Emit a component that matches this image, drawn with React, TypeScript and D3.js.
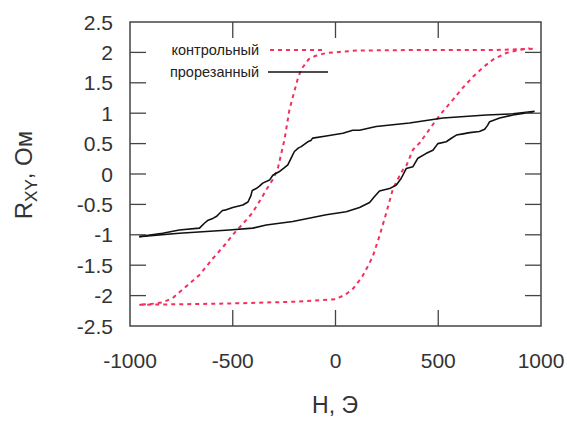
import React from "react";
import * as d3 from "d3";

// H, Э values (Oe) and R_XY (Ohm)
const controlDownH = [960, 780, 400, 100, -45, -100, -130, -167, -185, -205, -224, -248, -265, -280, -305, -337, -354, -386, -410, -435, -500, -532, -597, -662, -727, -792, -841, -900, -955];
const controlDownR = [2.06, 2.04, 2.04, 2.03, 1.99, 1.94, 1.89, 1.72, 1.55, 1.3, 1.06, 0.57, 0.32, 0.1, -0.09, -0.26, -0.36, -0.54, -0.66, -0.76, -1.0, -1.14, -1.39, -1.66, -1.85, -2.04, -2.11, -2.14, -2.15];
const controlUpH = [-955, -700, -516, -191, 0, 50, 84, 110, 133, 160, 182, 214, 247, 279, 310, 328, 344, 377, 409, 450, 490, 530, 571, 620, 669, 720, 766, 831, 880, 945];
const controlUpR = [-2.15, -2.14, -2.13, -2.1, -2.06, -1.98, -1.89, -1.78, -1.67, -1.5, -1.35, -1.02, -0.64, -0.25, -0.04, 0.07, 0.13, 0.4, 0.51, 0.7, 0.89, 1.06, 1.22, 1.42, 1.6, 1.76, 1.88, 1.99, 2.03, 2.07];

const cutDownH = [969, 863, 734, 523, 360, 198, 117, 84, 36, -45, -111, -120, -135, -167, -180, -200, -216, -232, -250, -273, -305, -321, -354, -370, -386, -405, -412, -426, -451, -500, -532, -550, -565, -580, -597, -620, -638, -662, -760, -841, -955];
const cutDownR = [1.03, 0.99, 0.97, 0.92, 0.84, 0.78, 0.72, 0.72, 0.67, 0.625, 0.59, 0.55, 0.53, 0.45, 0.43, 0.37, 0.26, 0.15, 0.1, 0.04, -0.02, -0.1, -0.15, -0.2, -0.24, -0.27, -0.36, -0.46, -0.51, -0.55, -0.59, -0.6, -0.65, -0.7, -0.73, -0.76, -0.81, -0.89, -0.92, -0.975, -1.03];
const cutUpH = [-955, -760, -516, -403, -337, -208, -45, 52, 117, 166, 190, 214, 263, 296, 320, 344, 377, 401, 442, 474, 498, 539, 560, 588, 620, 653, 700, 726, 740, 750, 799, 863, 961];
const cutUpR = [-1.03, -0.975, -0.92, -0.89, -0.84, -0.78, -0.67, -0.62, -0.55, -0.47, -0.37, -0.28, -0.24, -0.18, -0.07, 0.09, 0.12, 0.26, 0.34, 0.39, 0.5, 0.53, 0.58, 0.64, 0.66, 0.68, 0.7, 0.735, 0.8, 0.86, 0.92, 0.97, 1.02];

const xTicks = [-1000, -500, 0, 500, 1000];
const yTicks = [2.5, 2, 1.5, 1, 0.5, 0, -0.5, -1, -1.5, -2, -2.5];

const W = 567, H = 421;
const left = 130, right = 541, top = 22, bottom = 326;
const font = "'Liberation Sans', Arial, sans-serif";
const red = "#f2305e";
const frame = "#444";

export default function App() {
  const x = d3.scaleLinear().domain([-1000, 1000]).range([left, right]);
  const y = d3.scaleLinear().domain([-2.5, 2.5]).range([bottom, top]);
  const line = d3.line<[number, number]>().x(d => x(d[0])).y(d => y(d[1]));
  const zip = (a: number[], b: number[]) => a.map((v, i) => [v, b[i]] as [number, number]);
  const tl = 16;

  return (
    <svg width={W} height={H} style={{ position: "absolute", left: 0, top: 0, background: "#fff" }} fontFamily={font}>
      <path d={line(zip(controlDownH, controlDownR)) || ""} fill="none" stroke={red} strokeWidth={2} strokeDasharray="4,4" />
      <path d={line(zip(controlUpH, controlUpR)) || ""} fill="none" stroke={red} strokeWidth={2} strokeDasharray="4,4" />
      <path d={line(zip(cutDownH, cutDownR)) || ""} fill="none" stroke="#111" strokeWidth={1.6} strokeLinejoin="round" />
      <path d={line(zip(cutUpH, cutUpR)) || ""} fill="none" stroke="#111" strokeWidth={1.6} strokeLinejoin="round" />

      <rect x={left} y={top} width={right - left} height={bottom - top} fill="none" stroke={frame} strokeWidth={1.5} />
      {xTicks.slice(1, -1).map(t => (
        <g key={"x" + t}>
          <line x1={x(t)} x2={x(t)} y1={bottom} y2={bottom - tl} stroke={frame} strokeWidth={1.3} />
          <line x1={x(t)} x2={x(t)} y1={top} y2={top + tl} stroke={frame} strokeWidth={1.3} />
        </g>
      ))}
      {yTicks.slice(1, -1).map(t => (
        <g key={"y" + t}>
          <line x1={left} x2={left + tl} y1={y(t)} y2={y(t)} stroke={frame} strokeWidth={1.3} />
          <line x1={right} x2={right - tl} y1={y(t)} y2={y(t)} stroke={frame} strokeWidth={1.3} />
        </g>
      ))}
      {xTicks.map(t => (
        <text key={"xl" + t} x={x(t)} y={368} textAnchor="middle" fontSize={21} fill="#333">{t}</text>
      ))}
      {yTicks.map(t => (
        <text key={"yl" + t} x={113} y={y(t) + 7.5} textAnchor="end" fontSize={21} fill="#333">{t}</text>
      ))}

      <text x={335} y={413} textAnchor="middle" fontSize={23} fill="#333">H, Э</text>
      <text transform="translate(32,175) rotate(-90)" textAnchor="middle" fontSize={24} fill="#333">
        R<tspan fontSize={17} dy={5}>XY</tspan><tspan dy={-5}>, Ом</tspan>
      </text>

      <text x={259} y={55} textAnchor="end" fontSize={14.5} fill="#222">контрольный</text>
      <line x1={270} x2={323} y1={50} y2={50} stroke={red} strokeWidth={2} strokeDasharray="4,4" />
      <text x={259} y={77} textAnchor="end" fontSize={14.5} fill="#222">прорезанный</text>
      <line x1={268} x2={328} y1={72} y2={72} stroke="#111" strokeWidth={1.6} />
    </svg>
  );
}
